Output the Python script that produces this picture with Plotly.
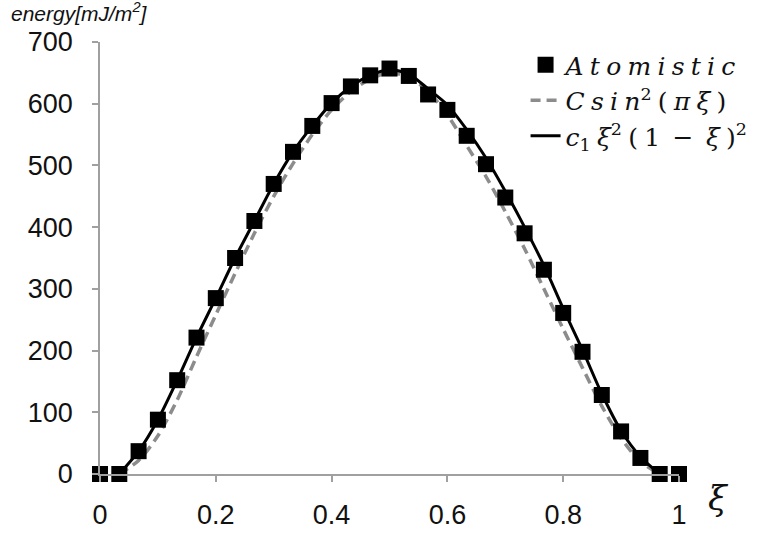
import plotly.graph_objects as go

# sample positions xi = k/30
xi = [k / 30 for k in range(31)]

# Atomistic data
atomistic = [0, 0, 37, 88, 152, 221, 285, 350, 410, 470, 522, 564, 601, 628, 646,
             657, 645, 615, 590, 548, 502, 448, 390, 331, 261, 198, 128, 69, 26, 0, 0]

# curves, xi = 1/30 ... 29/30
curve_xi = xi[1:30]
sin_curve = [0, 22, 62, 120, 190, 258, 325, 390, 450, 503, 550, 590, 620, 640,
             650, 643, 620, 582, 532, 482, 425, 365, 300, 235, 172, 110, 58, 20, 0]
poly_curve = [0, 37, 88, 152, 221, 285, 350, 410, 470, 522, 564, 601, 628, 646,
              655, 648, 624, 598, 558, 512, 458, 400, 338, 268, 201, 130, 70, 28, 0]

x_ticks = [0, 0.2, 0.4, 0.6, 0.8, 1]
x_tick_labels = ["0", "0.2", "0.4", "0.6", "0.8", "1"]
y_ticks = [0, 100, 200, 300, 400, 500, 600, 700]

S = "\u2005"   # four-per-em space
E = "\u2002"   # en space
name_atom = "<i>" + S.join("Atomistic") + "</i>"
name_sin = ("<i>C" + S + "s" + S + "i" + S + "n</i><sup>2</sup>" + S + "(" + S +
            "<i>π" + S + "ξ</i>" + S + ")")
name_poly = ("<i>c</i><sub>1</sub>" + S + "<i>ξ</i><sup>2</sup>" + S + "(" + S + "1" + E +
             "−" + E + "<i>ξ</i>" + S + ")<sup>2</sup>")

fig = go.Figure()
fig.add_trace(go.Scatter(
    x=curve_xi, y=sin_curve, mode="lines", name=name_sin, legendrank=2,
    line=dict(color="#8c8c8c", width=3.5, dash="10px,6px", shape="spline", smoothing=0.8),
    cliponaxis=False,
))
fig.add_trace(go.Scatter(
    x=curve_xi, y=poly_curve, mode="lines", name=name_poly, legendrank=3,
    line=dict(color="black", width=3, shape="spline", smoothing=0.8),
    cliponaxis=False,
))
fig.add_trace(go.Scatter(
    x=xi, y=atomistic, mode="markers", name=name_atom, legendrank=1,
    marker=dict(symbol="square", size=16, color="black"),
    cliponaxis=False,
))

fig.update_layout(
    width=766, height=537,
    margin=dict(l=100, r=87, t=42, b=63, autoexpand=False),
    paper_bgcolor="white", plot_bgcolor="white",
    font=dict(family="Liberation Sans, Arial, sans-serif", size=27, color="#111"),
    legend=dict(
        x=0.735, y=1.0, xanchor="left", yanchor="top",
        bgcolor="rgba(0,0,0,0)",
        font=dict(family="DejaVu Serif, serif", size=25, color="#111"),
        traceorder="normal",
        tracegroupgap=0,
        itemwidth=30,
    ),
    xaxis=dict(
        range=[0, 1], tickvals=x_ticks, ticktext=x_tick_labels,
        showgrid=False, zeroline=False, automargin=False,
        showline=True, linecolor="#a0a0a0", linewidth=1.5,
        ticks="outside", ticklen=6, tickcolor="#a0a0a0", tickwidth=1.5,
        ticklabelstandoff=10,
    ),
    yaxis=dict(
        range=[0, 700], tickvals=y_ticks,
        showgrid=False, zeroline=False, automargin=False,
        showline=True, linecolor="#a0a0a0", linewidth=1.5,
        ticks="outside", ticklen=6, tickcolor="#a0a0a0", tickwidth=1.5,
        ticklabelstandoff=14,
    ),
    annotations=[
        dict(text="<i>energy[mJ/m<sup>2</sup>]</i>", xref="paper", yref="paper",
             x=-0.157, y=1.104, xanchor="left", yanchor="top",
             showarrow=False, font=dict(size=21, color="#111")),
        dict(text="<i>ξ</i>", xref="paper", yref="paper", x=1.068, y=-0.056,
             xanchor="center", yanchor="middle",
             showarrow=False, font=dict(family="DejaVu Serif, serif", size=34, color="#111")),
    ],
)

fig.write_html("out.html")
